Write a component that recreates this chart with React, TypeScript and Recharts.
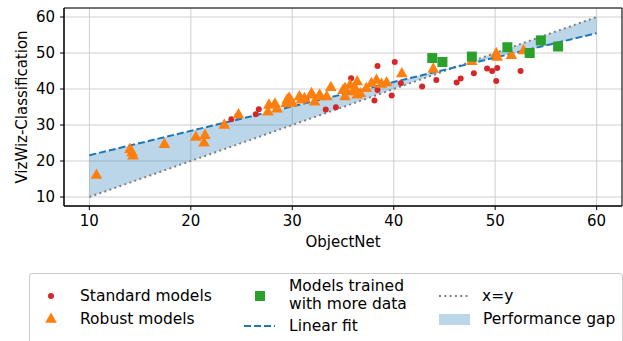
import React from 'react';
import {
  ComposedChart,
  Scatter,
  Line,
  Area,
  XAxis,
  YAxis,
  CartesianGrid,
  ReferenceArea
} from 'recharts';

// ObjectNet accuracy (x) vs VizWiz-Classification accuracy (y)
const standardModels: [number, number][] = [
  [24.0, 31.6], [24.6, 32.6], [26.4, 33.0], [26.7, 34.4], [31.4, 37.0],
  [33.3, 34.3], [34.3, 34.9], [35.8, 43.0], [38.1, 36.8], [38.4, 39.7],
  [38.4, 46.4], [39.8, 38.2], [40.1, 47.5], [40.7, 41.6], [42.8, 40.7],
  [44.2, 42.5], [46.2, 41.8], [46.6, 42.9], [47.9, 44.4], [49.2, 45.7],
  [49.7, 45.0], [50.2, 45.8], [50.1, 42.2], [52.5, 45.0]
];

const robustModels: [number, number][] = [
  [10.7, 16.1], [14.0, 23.3], [14.2, 22.4], [14.3, 21.5], [17.4, 24.7],
  [20.5, 26.7], [21.4, 27.2], [21.3, 25.1], [23.3, 30.0], [24.7, 32.9],
  [27.6, 33.7], [27.7, 35.6], [28.3, 35.9], [28.5, 34.5], [29.4, 36.0],
  [29.5, 37.0], [29.7, 37.6], [30.0, 36.1], [30.7, 37.9], [30.9, 37.0],
  [31.2, 37.4], [31.9, 38.8], [31.9, 38.4], [32.2, 36.5], [32.7, 37.9],
  [32.7, 38.4], [33.4, 37.9], [33.8, 40.5], [35.0, 39.7], [35.2, 37.9],
  [35.2, 40.2], [35.7, 41.1], [36.0, 39.3], [36.2, 40.2], [36.4, 42.1],
  [36.4, 38.4], [36.7, 38.8], [37.3, 40.2], [37.8, 41.6], [38.3, 42.5],
  [38.8, 41.4], [39.3, 41.8], [40.8, 44.3], [43.9, 45.6], [47.7, 47.7],
  [50.1, 49.9], [50.2, 48.9], [51.6, 49.4], [52.8, 50.7]
];

const moreDataModels: [number, number][] = [
  [43.8, 48.6], [44.8, 47.5], [47.7, 49.0], [51.2, 51.6],
  [53.4, 50.0], [54.5, 53.5], [56.2, 51.8]
];

// line end points
const lineX = [10, 60];
const fitY = [21.6, 55.5];
const identityY = [10, 60];

const ticks = [10, 20, 30, 40, 50, 60];
const domain: [number, number] = [7.5, 62.5];

const toPoints = (arr: [number, number][]) => arr.map(([x, y]) => ({ x, y }));

const lineData = lineX.map((x, i) => ({
  x,
  fit: fitY[i],
  identity: identityY[i],
  gap: [identityY[i], fitY[i]]
}));

const RED = '#d62728';
const ORANGE = '#ff7f0e';
const GREEN = '#2ca02c';
const BLUE = '#1f77b4';
const FONT = 'DejaVu Sans, sans-serif';

const Dot = (p: any) => <circle cx={p.cx} cy={p.cy} r={3} fill={RED} />;
const Tri = (p: any) => (
  <polygon
    points={`${p.cx},${p.cy - 6.5} ${p.cx - 5.8},${p.cy + 3.8} ${p.cx + 5.8},${p.cy + 3.8}`}
    fill={ORANGE}
  />
);
const Sq = (p: any) => <rect x={p.cx - 5} y={p.cy - 5} width={10} height={10} fill={GREEN} />;

const legendText: React.CSSProperties = {
  position: 'absolute',
  fontSize: 15.5,
  lineHeight: '18px',
  whiteSpace: 'nowrap',
  color: '#000'
};

function Legend() {
  const t = (left: number, cy: number, s: string) => (
    <div style={{ ...legendText, left, top: cy - 9 }}>{s}</div>
  );
  return (
    <>
      <div
        style={{
          position: 'absolute',
          left: 29,
          top: 273,
          width: 592,
          height: 80,
          border: '1px solid #cccccc',
          borderRadius: 3,
          background: '#fff'
        }}
      />
      <svg style={{ position: 'absolute', left: 0, top: 0 }} width={623} height={341}>
        <circle cx={51} cy={296} r={3} fill={RED} />
        <polygon points="51,312.5 45.2,322.8 56.8,322.8" fill={ORANGE} />
        <rect x={255} y={291} width={10} height={10} fill={GREEN} />
        <line x1={244} y1={326} x2={275} y2={326} stroke={BLUE} strokeWidth={2} strokeDasharray="7 3" />
        <line x1={439} y1={296} x2={469} y2={296} stroke="#808080" strokeWidth={2} strokeDasharray="2 3.3" />
        <rect x={439} y={314} width={31} height={11} fill={BLUE} fillOpacity={0.3} />
      </svg>
      {t(80, 296, 'Standard models')}
      {t(80, 319, 'Robust models')}
      {t(289, 286, 'Models trained')}
      {t(289, 304, 'with more data')}
      {t(289, 326, 'Linear fit')}
      {t(482, 296, 'x=y')}
      {t(483, 319, 'Performance gap')}
    </>
  );
}

export default function App() {
  const tickStyle = { fontSize: 15, fill: '#000', fontFamily: FONT };
  return (
    <div style={{ position: 'absolute', left: 0, top: 0, width: 623, height: 341, fontFamily: FONT, background: '#fff' }}>
      <ComposedChart
        width={623}
        height={341}
        data={lineData}
        margin={{ top: 8, right: 1, left: 20, bottom: 105 }}
      >
        <CartesianGrid stroke="#cfcfcf" strokeWidth={1} />
        <XAxis
          type="number"
          dataKey="x"
          domain={domain}
          ticks={ticks}
          allowDataOverflow
          height={30}
          tick={tickStyle}
          tickSize={4}
          tickMargin={5}
          axisLine={{ stroke: '#000' }}
          tickLine={{ stroke: '#000' }}
          label={{ value: 'ObjectNet', position: 'bottom', offset: 0, fontSize: 15, fill: '#000', fontFamily: FONT }}
        />
        <YAxis
          type="number"
          domain={domain}
          ticks={ticks}
          allowDataOverflow
          width={44}
          tick={tickStyle}
          tickSize={4}
          tickMargin={5}
          axisLine={{ stroke: '#000' }}
          tickLine={{ stroke: '#000' }}
          label={{
            content: (props: any) => {
              const vb = props.viewBox || { y: 8, height: 198 };
              const cy = vb.y + vb.height / 2;
              return (
                <text
                  x={27}
                  y={cy}
                  transform={`rotate(-90 27 ${cy})`}
                  textAnchor="middle"
                  fontSize={15}
                  fill="#000"
                  fontFamily={FONT}
                >
                  VizWiz-Classification
                </text>
              );
            }
          }}
        />
        <Area
          dataKey="gap"
          stroke="none"
          fill={BLUE}
          fillOpacity={0.3}
          isAnimationActive={false}
          dot={false}
          activeDot={false}
        />
        <Scatter data={toPoints(standardModels)} dataKey="y" shape={Dot} isAnimationActive={false} />
        <Scatter data={toPoints(robustModels)} dataKey="y" shape={Tri} isAnimationActive={false} />
        <Scatter data={toPoints(moreDataModels)} dataKey="y" shape={Sq} isAnimationActive={false} />
        <Line
          dataKey="identity"
          stroke="#808080"
          strokeWidth={2}
          strokeDasharray="2 3.3"
          dot={false}
          activeDot={false}
          isAnimationActive={false}
        />
        <Line
          dataKey="fit"
          stroke={BLUE}
          strokeWidth={2}
          strokeDasharray="7 3"
          dot={false}
          activeDot={false}
          isAnimationActive={false}
        />
        <ReferenceArea x1={7.5} x2={62.5} y1={7.5} y2={62.5} fill="none" stroke="#000" strokeWidth={1} />
      </ComposedChart>
      <Legend />
    </div>
  );
}
